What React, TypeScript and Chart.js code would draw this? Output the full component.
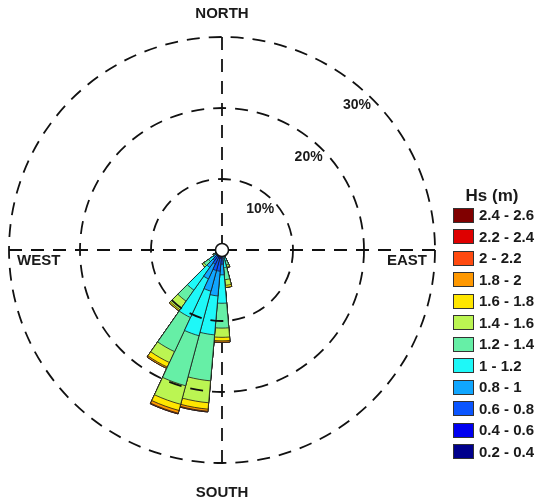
import React, { useEffect, useRef } from "react";
import { Chart, registerables } from "chart.js";

Chart.register(...registerables);

// 36 direction bins (degrees, clockwise from north)
const directionLabels = [
  "0", "10", "20", "30", "40", "50", "60", "70", "80", "90", "100", "110",
  "120", "130", "140", "150", "160", "170", "180", "190", "200", "210", "220", "230",
  "240", "250", "260", "270", "280", "290", "300", "310", "320", "330", "340", "350",
];

// directions that hold any occurrence
const sectorDirections = [160, 170, 180, 190, 200, 210, 220, 230, 240];

// frequency (%) of each Hs class for the sector directions above
const hs02_04 = [0.1, 0.2, 0.3, 0.4, 0.4, 0.3, 0.3, 0.2, 0.1];
const hs04_06 = [0.2, 0.3, 0.5, 0.8, 0.8, 0.7, 0.5, 0.3, 0.1];
const hs06_08 = [0.3, 0.3, 1.2, 1.8, 1.8, 1.2, 1.0, 0.4, 0.2];
const hs08_10 = [0.4, 0.4, 1.5, 3.5, 3.0, 2.3, 1.2, 0.6, 0.3];
const hs10_12 = [0.6, 1.3, 4.0, 5.5, 6.5, 6.0, 3.9, 0.8, 0.3];
const hs12_14 = [0.6, 1.7, 3.5, 6.5, 7.3, 5.3, 1.9, 0.8, 0.3];
const hs14_16 = [0.3, 0.8, 1.3, 3.1, 2.7, 1.7, 1.5, 0.3, 0.1];
const hs16_18 = [0.1, 0.3, 0.5, 0.9, 0.9, 0.7, 0.2, 0.0, 0.0];
const hs18_20 = [0.0, 0.0, 0.2, 0.3, 0.4, 0.2, 0.0, 0.0, 0.0];
const hs20_22 = [0.0, 0.0, 0.0, 0.1, 0.1, 0.0, 0.0, 0.0, 0.0];
const hs22_24 = [0.0, 0.0, 0.0, 0.0, 0.0, 0.0, 0.0, 0.0, 0.0];
const hs24_26 = [0.0, 0.0, 0.0, 0.0, 0.0, 0.0, 0.0, 0.0, 0.0];

const bandValues = [
  hs02_04, hs04_06, hs06_08, hs08_10, hs10_12, hs12_14,
  hs14_16, hs16_18, hs18_20, hs20_22, hs22_24, hs24_26,
];

const bandLabels = [
  "0.2 - 0.4", "0.4 - 0.6", "0.6 - 0.8", "0.8 - 1", "1 - 1.2", "1.2 - 1.4",
  "1.4 - 1.6", "1.6 - 1.8", "1.8 - 2", "2 - 2.2", "2.2 - 2.4", "2.4 - 2.6",
];

const bandColors = [
  "#00008c", "#0000f0", "#0a55ff", "#10a6ff", "#1ef8f8", "#66efa6",
  "#bbf552", "#ffe600", "#ff9800", "#ff4a10", "#de0000", "#800000",
];

const gridTicks = [10, 20, 30];
const tickLabels = ["10%", "20%", "30%"];
const compassLabels = ["NORTH", "EAST", "SOUTH", "WEST"];

const FONT = '"Liberation Sans", Arial, sans-serif';
const DASH = [13, 9];

function buildDatasets() {
  const running = directionLabels.map(() => 0);
  return bandValues.map((band, b) => {
    sectorDirections.forEach((dir, k) => {
      const idx = directionLabels.indexOf(String(dir));
      running[idx] += band[k];
    });
    return {
      label: bandLabels[b],
      data: running.map((v) => Math.round(v * 100) / 100),
      backgroundColor: bandColors[b],
      borderColor: "#1c1c1c",
      borderWidth: 0.8,
    };
  });
}

const roseDecor = {
  id: "roseDecor",
  beforeDatasetsDraw(chart: any) {
    const s = chart.scales.r;
    const ctx = chart.ctx;
    const R = s.drawingArea;
    const cx = s.xCenter;
    const cy = s.yCenter;
    ctx.save();
    ctx.strokeStyle = "#111";
    ctx.lineWidth = 1.8;
    ctx.setLineDash(DASH);
    const ends = [
      [cx, cy - R],
      [cx + R, cy],
      [cx, cy + R],
      [cx - R, cy],
    ];
    ends.forEach(([x, y]) => {
      ctx.beginPath();
      ctx.moveTo(x, y);
      ctx.lineTo(cx, cy);
      ctx.stroke();
    });
    ctx.restore();
  },
  afterDraw(chart: any) {
    const s = chart.scales.r;
    const ctx = chart.ctx;
    const R = s.drawingArea;
    const cx = s.xCenter;
    const cy = s.yCenter;
    ctx.save();
    ctx.fillStyle = "#1a1a1a";
    ctx.font = `bold 14px ${FONT}`;
    ctx.textAlign = "center";
    ctx.textBaseline = "middle";
    const a = (43 * Math.PI) / 180;
    gridTicks.forEach((v, i) => {
      const r = s.getDistanceFromCenterForValue(v) - 15;
      ctx.fillText(tickLabels[i], cx + r * Math.sin(a), cy - r * Math.cos(a));
    });

    ctx.font = `bold 15px ${FONT}`;
    ctx.textAlign = "center";
    ctx.fillText(compassLabels[0], cx, cy - 236);
    ctx.fillText(compassLabels[2], cx, cy + 243);
    ctx.textAlign = "right";
    ctx.fillText(compassLabels[1], cx + R - 8, cy + 11);
    ctx.textAlign = "left";
    ctx.fillText(compassLabels[3], cx - R + 8, cy + 11);

    ctx.beginPath();
    ctx.arc(cx, cy, 6.5, 0, Math.PI * 2);
    ctx.fillStyle = "#ffffff";
    ctx.fill();
    ctx.lineWidth = 1.5;
    ctx.strokeStyle = "#111";
    ctx.stroke();
    ctx.restore();
  },
};

export default function App() {
  const canvasRef = useRef<HTMLCanvasElement | null>(null);

  useEffect(() => {
    if (!canvasRef.current) return;
    const chart = new Chart(canvasRef.current, {
      type: "polarArea",
      data: {
        labels: directionLabels,
        datasets: buildDatasets() as any,
      },
      options: {
        animation: false,
        responsive: false,
        layout: { padding: { left: 9, top: 37, right: 103, bottom: 38 } },
        plugins: {
          legend: { display: false },
          tooltip: { enabled: false },
        },
        scales: {
          r: {
            min: 0,
            max: 30,
            startAngle: -5,
            ticks: { display: false, stepSize: 10, z: 1 },
            grid: { circular: true, color: "#111", lineWidth: 1.8, z: 1 },
            border: { display: false, dash: DASH },
            angleLines: { display: false },
            pointLabels: { display: false },
          },
        },
      } as any,
      plugins: [roseDecor],
    });
    return () => chart.destroy();
  }, []);

  const legendOrder = bandLabels.map((_, i) => bandLabels.length - 1 - i);

  return (
    <div
      style={{
        position: "absolute",
        left: 0,
        top: 0,
        width: 538,
        height: 501,
        background: "#ffffff",
        fontFamily: FONT,
      }}
    >
      <canvas ref={canvasRef} width={538} height={501} style={{ position: "absolute", left: 0, top: 0 }} />
      <div
        style={{
          position: "absolute",
          left: 450,
          width: 84,
          top: 186,
          textAlign: "center",
          fontWeight: "bold",
          fontSize: 17,
          lineHeight: "20px",
          color: "#1a1a1a",
        }}
      >
        Hs (m)
      </div>
      {legendOrder.map((b, row) => (
        <div
          key={b}
          style={{
            position: "absolute",
            left: 453,
            top: 207 + row * 21.5,
            height: 16,
            display: "flex",
            alignItems: "center",
            whiteSpace: "nowrap",
          }}
        >
          <div
            style={{
              width: 19,
              height: 13,
              background: bandColors[b],
              border: "1px solid #333",
              marginRight: 5,
            }}
          />
          <span style={{ fontWeight: "bold", fontSize: 15, color: "#1a1a1a", lineHeight: "16px" }}>
            {bandLabels[b]}
          </span>
        </div>
      ))}
    </div>
  );
}
